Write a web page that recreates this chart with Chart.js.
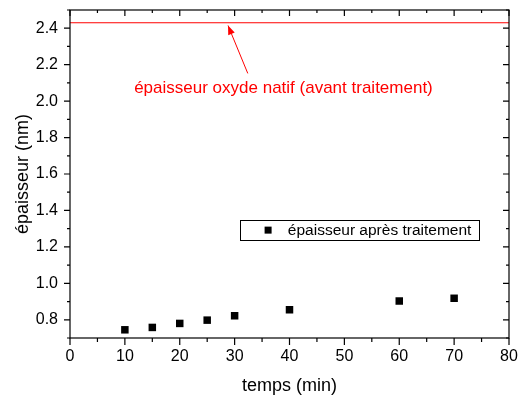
<!DOCTYPE html>
<html><head><meta charset="utf-8">
<script src="https://cdn.jsdelivr.net/npm/chart.js@4/dist/chart.umd.min.js"></script>
<style>html,body{margin:0;padding:0;background:#fff}#wrap{width:518px;height:399px}</style>
</head><body><div id="wrap"><canvas id="c" width="518" height="399"></canvas></div>
<script>
// ---- data ----
const times = [10, 15, 20, 25, 30, 40, 60, 70];
const thickness = [0.745, 0.758, 0.780, 0.798, 0.822, 0.855, 0.903, 0.918];
const nativeOxide = 2.43;
const nativeRange = [0, 80];
const xTicks = [0, 10, 20, 30, 40, 50, 60, 70, 80];
const yTicks = [0.8, 1.0, 1.2, 1.4, 1.6, 1.8, 2.0, 2.2, 2.4];
const xMinor = [5, 15, 25, 35, 45, 55, 65, 75];
const yMinor = [0.7, 0.9, 1.1, 1.3, 1.5, 1.7, 1.9, 2.1, 2.3, 2.5];
const seriesLabel = 'épaisseur après traitement';
const annotationText = 'épaisseur oxyde natif (avant traitement)';
const xTitle = 'temps (min)';
const yTitle = 'épaisseur (nm)';

const FONT = '"Liberation Sans", Arial, sans-serif';

const framePlugin = {
  id: 'frame',
  afterDraw(chart) {
    const ctx = chart.ctx, a = chart.chartArea;
    const xs = chart.scales.x, ys = chart.scales.y;
    ctx.save();
    ctx.strokeStyle = '#000';
    ctx.lineWidth = 1.2;
    ctx.strokeRect(a.left, a.top, a.right - a.left, a.bottom - a.top);
    ctx.beginPath();
    const tx = (v, out, inn) => {
      const p = xs.getPixelForValue(v);
      ctx.moveTo(p, a.bottom); ctx.lineTo(p, a.bottom + out);
      ctx.moveTo(p, a.top); ctx.lineTo(p, a.top + inn);
    };
    const ty = (v, out, inn) => {
      const p = ys.getPixelForValue(v);
      ctx.moveTo(a.left, p); ctx.lineTo(a.left - out, p);
      ctx.moveTo(a.right, p); ctx.lineTo(a.right - inn, p);
    };
    xTicks.forEach(v => tx(v, 7, 6));
    xMinor.forEach(v => tx(v, 4, 3));
    yTicks.forEach(v => ty(v, 6, 6));
    yMinor.forEach(v => ty(v, 3, 3));
    ctx.stroke();

    // annotation (red text + arrow), anchored in data space
    ctx.fillStyle = '#ff0000';
    ctx.strokeStyle = '#ff0000';
    ctx.font = '17px ' + FONT;
    ctx.textAlign = 'center';
    ctx.textBaseline = 'middle';
    ctx.fillText(annotationText, xs.getPixelForValue(38.9), ys.getPixelForValue(2.07));
    const x1 = xs.getPixelForValue(32.4), y1 = ys.getPixelForValue(2.152);
    const x2 = xs.getPixelForValue(28.8), y2 = ys.getPixelForValue(2.415);
    ctx.lineWidth = 1;
    ctx.beginPath(); ctx.moveTo(x1, y1); ctx.lineTo(x2, y2); ctx.stroke();
    const ang = Math.atan2(y2 - y1, x2 - x1), hl = 9, hw = 3.5;
    ctx.beginPath();
    ctx.moveTo(x2, y2);
    ctx.lineTo(x2 - hl * Math.cos(ang) + hw * Math.sin(ang), y2 - hl * Math.sin(ang) - hw * Math.cos(ang));
    ctx.lineTo(x2 - hl * Math.cos(ang) - hw * Math.sin(ang), y2 - hl * Math.sin(ang) + hw * Math.cos(ang));
    ctx.closePath(); ctx.fill();

    // legend box
    const lx1 = xs.getPixelForValue(31.0), lx2 = xs.getPixelForValue(74.5);
    const ly1 = ys.getPixelForValue(1.347), ly2 = ys.getPixelForValue(1.237);
    ctx.strokeStyle = '#000';
    ctx.lineWidth = 1;
    ctx.strokeRect(Math.round(lx1) + 0.5, Math.round(ly1) + 0.5, Math.round(lx2 - lx1), Math.round(ly2 - ly1));
    const cy = (ly1 + ly2) / 2;
    ctx.fillStyle = '#000';
    const mx = xs.getPixelForValue(36.1);
    ctx.fillRect(mx - 3.5, cy - 3.5, 7, 7);
    ctx.font = '15.5px ' + FONT;
    ctx.textAlign = 'left';
    ctx.fillText(seriesLabel, xs.getPixelForValue(39.7), cy + 0.5);
    ctx.restore();
  }
};

const noPad = s => { s.paddingLeft = 0; s.paddingRight = 0; s.paddingTop = 0; s.paddingBottom = 0; };

new Chart(document.getElementById('c'), {
  data: {
    datasets: [
      {
        type: 'line',
        data: nativeRange.map(x => ({ x, y: nativeOxide })),
        borderColor: '#ff0000',
        borderWidth: 1.2,
        pointRadius: 0
      },
      {
        type: 'scatter',
        label: seriesLabel,
        data: times.map((t, i) => ({ x: t, y: thickness[i] })),
        pointStyle: 'rect',
        pointRadius: 5.3,
        backgroundColor: '#000',
        borderWidth: 0
      }
    ]
  },
  options: {
    responsive: false,
    animation: false,
    devicePixelRatio: 1,
    layout: { padding: { top: 10, right: 9, left: 0, bottom: 0 } },
    plugins: { legend: { display: false }, tooltip: { enabled: false } },
    scales: {
      x: {
        type: 'linear', min: 0, max: 80,
        afterBuildTicks: s => { s.ticks = xTicks.map(v => ({ value: v })); },
        afterFit: s => { s.height = 61; noPad(s); },
        grid: { display: false, drawTicks: false, tickLength: 0 },
        border: { display: false },
        ticks: { color: '#000', font: { family: FONT, size: 16 }, padding: 9, maxRotation: 0, autoSkip: false },
        title: { display: true, text: xTitle, color: '#000', font: { family: FONT, size: 18 }, padding: { top: 0, bottom: 2 } }
      },
      y: {
        type: 'linear', min: 0.7, max: 2.5,
        afterBuildTicks: s => { s.ticks = yTicks.map(v => ({ value: v })); },
        afterFit: s => { s.width = 70; noPad(s); },
        grid: { display: false, drawTicks: false, tickLength: 0 },
        border: { display: false },
        ticks: { color: '#000', font: { family: FONT, size: 16 }, padding: 12, autoSkip: false,
                 callback: v => v.toFixed(1) },
        title: { display: true, text: yTitle, color: '#000', font: { family: FONT, size: 18 }, padding: { top: 12, bottom: 0 } }
      }
    }
  },
  plugins: [framePlugin]
});
</script>
</body></html>
